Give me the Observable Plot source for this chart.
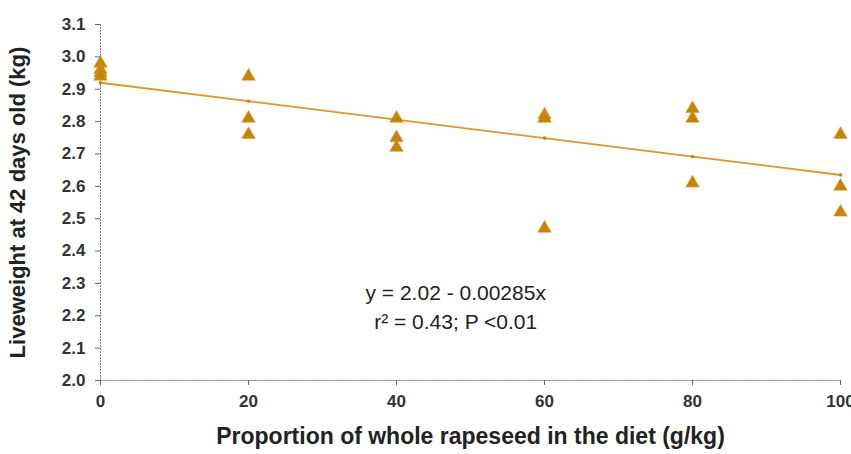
<!DOCTYPE html>
<html>
<head>
<meta charset="utf-8">
<script src="https://cdn.jsdelivr.net/npm/d3@7"></script>
<script src="https://cdn.jsdelivr.net/npm/@observablehq/plot@0.6"></script>
<style>
  html, body { margin: 0; padding: 0; background: #fff; }
  #chart { width: 851px; height: 454px; }
</style>
</head>
<body>
<div id="chart"></div>
<script>
// Observed liveweights (kg) at each rapeseed inclusion level (g/kg)
const rapeseedLevel = [0, 0, 0, 0, 20, 20, 20, 40, 40, 40, 60, 60, 60, 80, 80, 80, 100, 100, 100];
const liveweight = [2.98, 2.96, 2.95, 2.94, 2.94, 2.81, 2.76, 2.81, 2.75, 2.72, 2.82, 2.81, 2.47, 2.84, 2.81, 2.61, 2.76, 2.60, 2.52];

// Fitted regression line values
const fitLevel = [0, 20, 40, 60, 80, 100];
const fitWeight = [2.92, 2.863, 2.806, 2.749, 2.692, 2.635];

const xTicks = [0, 20, 40, 60, 80, 100];
const yTicks = [2.0, 2.1, 2.2, 2.3, 2.4, 2.5, 2.6, 2.7, 2.8, 2.9, 3.0, 3.1];

const equationLines = ["y = 2.02 - 0.00285x", "r² = 0.43; P <0.01"];
const equationY = [2.27, 2.18];

const points = rapeseedLevel.map((x, i) => ({x, y: liveweight[i]}));
const fit = fitLevel.map((x, i) => ({x, y: fitWeight[i]}));

const chart = Plot.plot({
  width: 851,
  height: 454,
  marginLeft: 100,
  marginRight: 11,
  marginTop: 24,
  marginBottom: 74,
  style: {fontFamily: "'Liberation Sans', Arial, sans-serif", background: "#fff"},
  x: {domain: [0, 100]},
  y: {domain: [2.0, 3.1]},
  marks: [
    Plot.ruleX([0], {stroke: "#777", strokeDasharray: "2,1", strokeWidth: 1}),
    Plot.ruleY([2.0], {stroke: "#777", strokeDasharray: "2,1", strokeWidth: 1, x1: -0.6, x2: 100}),
    Plot.axisY({
      ticks: yTicks, tickFormat: d3.format(".1f"), tickSize: 5, tickPadding: 10,
      stroke: "#666", fill: "#333", fontSize: 17, fontWeight: "bold",
      label: "Liveweight at 42 days old (kg)", labelAnchor: "center", labelArrow: false, labelOffset: 91
    }),
    Plot.axisX({
      ticks: xTicks, tickSize: 5, tickPadding: 9, stroke: "#666", fill: "#333",
      fontSize: 17, fontWeight: "bold",
      label: "Proportion of whole rapeseed in the diet (g/kg)", labelAnchor: "center", labelArrow: false, labelOffset: 63
    }),
    Plot.line(fit, {x: "x", y: "y", stroke: "#E0952A", strokeWidth: 1.8}),
    Plot.dot(fit, {x: "x", y: "y", r: 1.8, fill: "#C98410", stroke: "none"}),
    Plot.dot(points, {x: "x", y: "y", symbol: "triangle", r: 5, fill: "#C4830A", stroke: "#D99A2A", strokeWidth: 0.6}),
    Plot.text(equationLines, {
      x: 48, y: equationY, text: d => d, fontSize: 21, fill: "#222", textAnchor: "middle"
    })
  ]
});

// Style axis labels (bold, larger)
d3.select(chart).selectAll("g[aria-label='y-axis label'] text")
  .attr("font-size", 22).attr("font-weight", "bold").attr("fill", "#222");
d3.select(chart).selectAll("g[aria-label='x-axis label'] text")
  .attr("font-size", 23).attr("font-weight", "bold").attr("fill", "#222");

document.getElementById("chart").appendChild(chart);
</script>
</body>
</html>
